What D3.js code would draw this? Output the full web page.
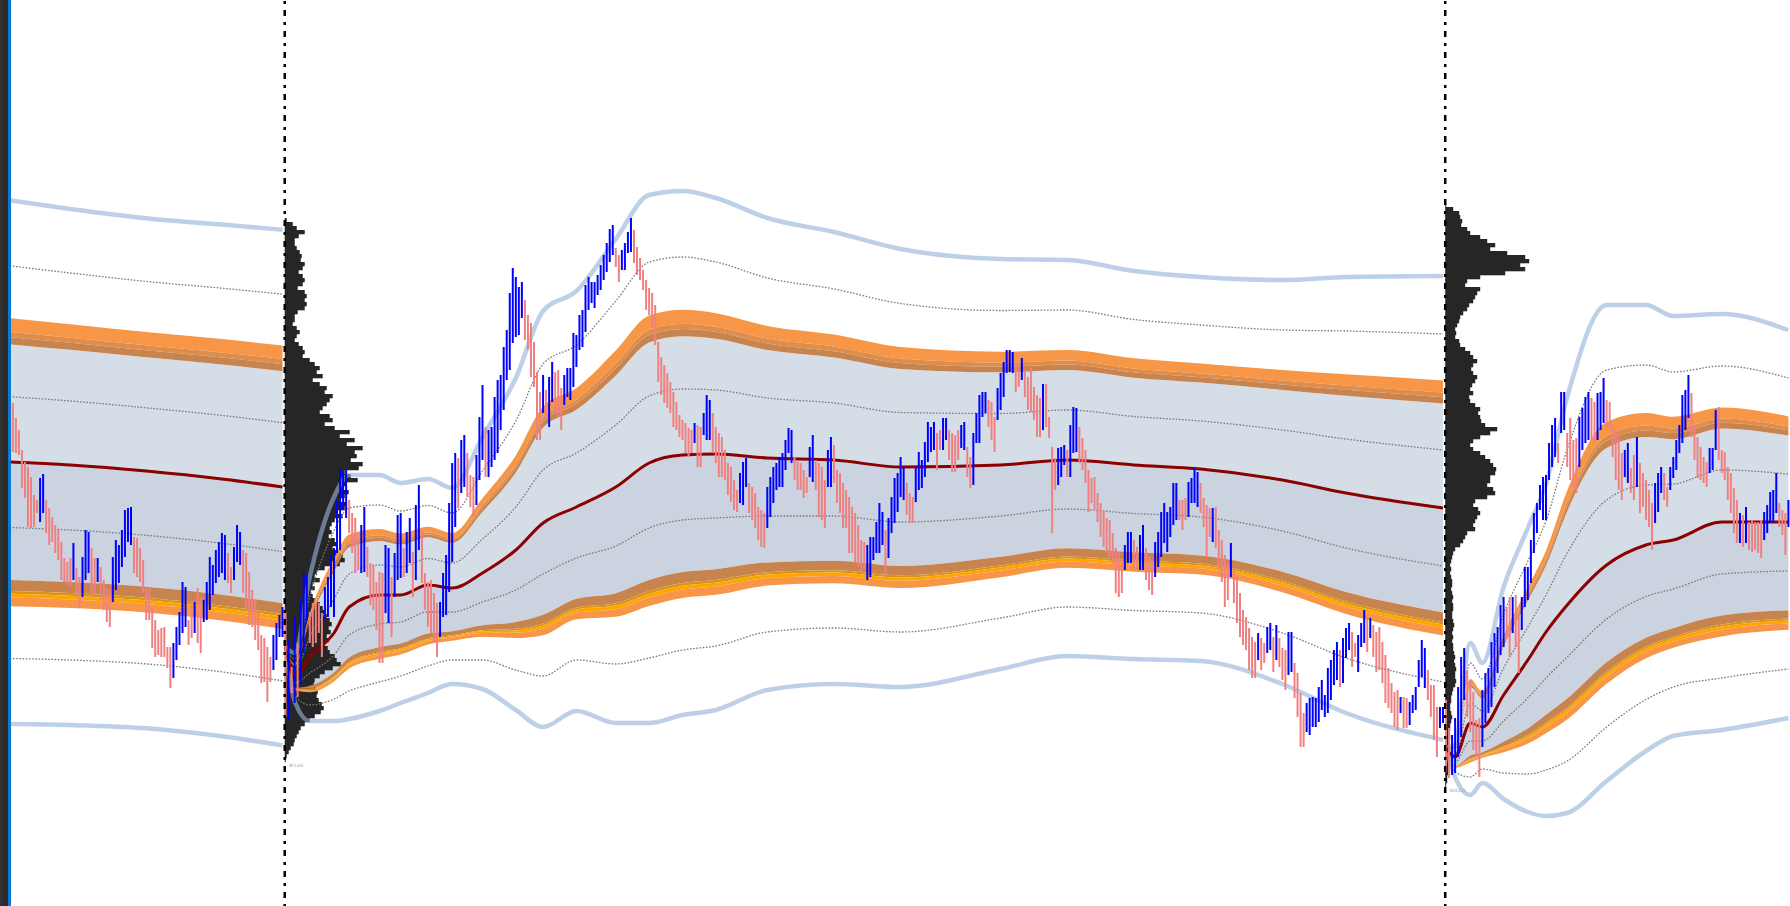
<!DOCTYPE html>
<html><head><meta charset="utf-8">
<script src="https://cdn.jsdelivr.net/npm/d3@7"></script>
<style>html,body{margin:0;padding:0;background:#fff;overflow:hidden}</style>
</head><body>
<svg id="c" width="1790" height="906"></svg>
<script>
// ---------- SESSION 1 ----------
const s1High=[608,597,582,570,550,538,533,523,505,500, 522,526,500,492,483,475,470,458,442,438, 442,457,432,423,443,470,468,452,442,442, 433,420,412,410,443,460,455,470,490,492, 493,463,462,452,440,412,413,393,380,370, 372,373,353,353,357,373,388,418,413,380, 400,398,412,403,400,418,443,435,450,458, 467,465,447,433,453,475,468,450,447,428, 410,400,387,365,362,353,343,365,377,385, 393];
const s1Low=[553,548,547,545,512,502,473,472,473,487, 478,487,467,455,458,447,440,420,418,415, 413,420,403,392,403,420,427,407,405,418, 400,390,378,373,398,410,417,433,443,458, 455,427,423,418,407,380,380,352,343,345, 343,343,332,312,322,340,355,367,373,355, 362,367,357,347,378,380,390,405,417,423, 427,420,417,407,420,438,435,407,390,375, 373,360,350,317,318,298,318,330,340,363, 363];
const s1Dir="DDDDDDDDDD"+"UUDDDDDDDD"+"DUDDUUUDDU"+"DDDDUUUUUU"+"UDDDDDDDDD"+"DDDDUUUUUD"+"DUDDUUUUUU"+"UUDDUUUDDD"+"DDDDDDDUUU"+"U";
const s1K=[0,20,45,70,90];
const s1Vwap=[538,535,529,521,513];
const s1Up=[65.4,64,63.2,63.6,64.3];
const s1Dn=[65.5,65,64.3,64.3,64.6];

// ---------- SESSION 2 ----------
const s2High=[388,360,333,383,357,400,427,425,388,397, 398,397,387,413,423,445,452,500,530,528,
 530,500,487,482,467,475,493,453,437,435, 418,428,427,455,452,423,447,485,487,452,
 468,482,448,495,515,470,427,418,420,407, 397,398,427,445,497,537,547,542,560,565,
 547,525,523,545,583,615,573,570,573,603, 620,625,653,670,707,732,723,713,718,700,
 685,677,658,628,608,625,610,623,638,628, 630,612,625,632,632,667,665,685,690,715,
 723,718,718,725,735,745,757,771,775,752, 745,750,757,768,782,770,753,742,730,720,
 712,707,695,658,643,635,627,618,608,598, 585,580,577,572,570,577,575,573,587,605,
 600,587,573,567,563,550,537,533,520,510, 527,538,542,517,513,507,493,490,487,513,
 523,533,537,543,547,560,572,570,543,540, 537,530,523,553,565,540,537,533,520,550,
 563,555,530,527,517,510,503,493,487,475, 460,458,455,463,463,478,497,488,470,482,
 503,522,527,543,533,517,507,503,533,548, 540,558,578,573,578,567,570,582,582,570,
 567,565,570,575,578,553,543,567,587,605, 608,608,600,598,583,612,627,638,650,650,
 648,637,635,642,630,623,632,613,605,602, 616,616,583,553,542,552,553,555,550,575,
 593,592,573,562,550,530,522,523,507,497, 490,482,480,467,452,448,440,455,468,468,
 460,453,465,475,452,443,440,458,468,488, 497,488,493,517,517,500,500,502,518,522,
 533,528,517,502,495,492,492,493,470,460, 445,437,457,432,422,407,390,383,372,363,
 358,367,362,357,373,377,363,375,362,352, 350,368,368,337,327,307,287,297,302,303,
 302,313,320,305,332,340,350,358,350,362, 372,377,368,357,365,377,390,383,382,375,
 368,373,358,345,332,317,308,310,303,303, 302,298,305,313,340,360,352,330,315,315,
 293,293,293];
const s2Low=[283,280,307,297,303,317,347,380,357,353, 357,367,343,380,383,393,383,447,450,490,
 482,467,447,427,430,427,428,423,395,390, 370,337,337,387,377,363,403,420,422,423,
 427,437,403,420,450,417,390,373,367,357, 343,363,383,385,408,438,473,492,507,513,
 503,493,483,495,520,540,523,523,533,540, 547,570,590,620,630,657,663,665,682,660,
 650,623,613,560,560,587,583,573,598,587, 583,570,595,603,600,613,633,650,653,668,
 690,697,692,705,710,720,728,738,745,733, 718,730,730,747,748,737,725,720,710,690,
 685,672,655,618,605,597,592,587,573,570, 563,560,547,543,547,557,533,533,565,560,
 560,547,537,523,523,520,505,498,490,488, 497,495,513,487,480,472,460,453,452,472,
 483,497,510,513,513,530,547,537,520,510, 510,502,507,523,518,510,483,480,472,513,
 513,517,497,487,472,472,447,447,437,433, 428,430,420,423,440,447,447,455,423,442,
 467,477,488,503,500,485,477,477,498,510, 512,523,538,548,550,530,550,550,560,540,
 528,528,540,552,550,523,512,515,557,557, 583,587,573,560,548,580,590,603,627,628,
 627,608,613,620,603,590,588,580,563,563, 570,573,562,467,510,515,523,535,523,523,
 547,548,537,530,517,488,497,490,478,463, 453,447,443,437,407,403,407,430,437,437,
 430,430,430,430,420,410,405,423,433,443, 457,448,463,475,480,480,470,480,483,497,
 497,493,487,473,443,463,458,452,430,418, 393,400,423,397,377,363,355,350,330,322,
 322,340,330,337,347,350,328,340,333,320, 310,325,328,302,283,253,253,268,265,273,
 273,278,290,283,287,300,315,320,313,317, 342,350,333,343,328,353,357,348,362,343,
 328,330,317,297,292,287,273,270,287,272, 272,275,287,290,313,323,312,300,283,260,
 243,272,277];
const s2Dir="DUDUDUUUDD"+"DDDUUUUUUU"+"UDDDDUUDDD"+"DDDUUDUUUD"+"UUDUUDDDDD"+"DUUUUUUDUU"+"DDDUUUDUUU"+"UUUUUUUUUD"
 +"DDDDDUDUUD"+"DDUUUUUUUU"+"UUUUUUUUUD"+"DUUUUDDDDD"+"DDDDDDDDDD"+"DDDDDUDDUU"+"UDDDDDDDDD"+"UUUDDDDDDU"
 +"UUUUUUUUDD"+"DDDUUDDDDU"+"UDDDDDDDDD"+"DDUUUUUUDU"+"UUUUUDDDUU"+"UUUUUDDUUD"+"DDDUUDDUUU"+"UUDDDUUUUU"
 +"UDDUDDDDDD"+"UDDDDUUUDU"+"UUDDDDDDDD"+"DDDDDDDUUU"+"DDUUDDDUUU"+"UUUUUDDDUU"+"UUDDDDUDDD"+"DDUDDDDDDD"
 +"DUDDUUDUDD"+"DUUDDDDUUU"+"UUUUUUUUDU"+"UUDDUUUDUD"+"DDDDDDDDUD"+"DUUUUUUDDD"+"DUU";
const s2K=[0,3,8,16,21,31,38,47,55,65,76,85,96,109,120,131,142,159,181,203,236,258,280,302,329,350,382];
const s2Vwap=[353,323,343,367,393,405,405,415,412,427,450,477,493,513,537,545,546,542,540,533,535,540,535,531,520,507,492];
const s2Up=[0,6,20,34,33,30,28,26.5,25,34,43,53,54,62,67,66,64,60,57,54.5,51.5,50,48.5,48,50,54,58];
const s2Dn=[0,6,16,22,28,29,27,27,24,29,40,51,51,59,65,65,64,58,56,55,51,49,48.5,48,51,55,58];
const s2ProfileTop=782;
const s2Profile=[2,8,12,20,14,10,10,12,15,17, 16,20,18,14,18,20,18,13,20,22, 20,22,20,13,10,10,8,12,15,12,
 10,14,18,20,18,25,30,35,32,38, 28,35,42,40,48,45,42,38,35,45, 48,40,50,65,55,70,62,78,70,72,
 66,78,74,60,66,73,62,58,64,60, 55,62,60,52,58,50,47,45,47,44, 50,53,48,55,58,60,55,40,32,30,
 35,28,30,26,28,30,35,38,40,42, 45,47,44,46,42,44,40,43,45,50, 52,56,48,40,35,30,29,31,33,32,
 34,37,39,36,30,25,20,16,14,12, 10,9,6,4,2,1];

// ---------- SESSION 3 ----------
const s3High=[300,272,265,282,313,343,352,330,320,308, 280,282,310,327,332,358,367,373,395,403,
 393,403,403,405,387,403,433,433,460,487, 497,515,523,525,557,575,582,557,608,608,
 567,582,560,562,583,592,603,608,602,598, 607,608,622,600,598,575,570,563,547,550,
 557,532,545,563,537,527,520,510,497,517, 527,533,527,513,533,543,560,575,605,610,
 625,607,575,563,553,543,538,552,552,590, 593,550,548,533,527,512,500,487,485,493,
 478,480,478,478,480,488,495,508,510,527, 497,490,487,500,517];
const s3Low=[228,222,225,227,243,263,300,283,268,250, 243,223,253,277,287,293,313,327,345,353,
 363,343,367,353,327,370,393,400,417,447, 467,490,480,480,520,533,543,537,567,570,
 533,520,513,507,533,550,557,560,560,557, 560,570,577,572,573,543,520,510,500,523,
 517,507,500,513,487,493,480,473,450,477, 488,507,500,493,510,522,530,547,557,570,
 582,563,540,522,520,517,513,527,530,550, 540,527,520,500,487,467,457,457,453,457,
 450,448,450,447,442,460,467,477,478,487, 473,465,445,473,477];
const s3Dir="DDUUUUUDDD"+"DDUUUUUUUU"+"DDUDDUUUUU"+"UUUUUUUDUU"+"DDDDUUUUDD"+"UUUDDDDDDU"+"UDDUDDDDDU"+"UUDDUUUUUU"
 +"UDDDDDDUUU"+"DDDDDDDUDU"+"DDDDDUUUUU"+"DDDUU";
const s3K=[0,3,8,12,19,27,33,40,53,66,75,91,113];
const s3Vwap=[252,243,277,273,305,340,368,395,435,455,460,478,478];
const s3Up=[0,3,20,16,27,33,37,52,65,60,56,52,48];
const s3Dn=[0,5,18,14,26,38,46,52,54,51.5,49,52,49];
const s3ProfileTop=797;
const s3Profile=[1,8,14,15,17,16,22,25,35,42, 50,45,62,80,84,75,80,60,35,22, 20,35,32,30,28,24,22,18,15,14,
 12,10,11,10,14,15,20,25,28,32, 28,26,28,32,30,27,25,28,24,25, 30,35,33,35,36,40,52,45,35,28,
 25,28,35,40,45,48,51,50,45,45, 42,48,50,42,30,28,33,35,32,30, 28,30,22,20,18,15,10,8,7,6,
 5,6,5,6,7,7,6,7,8,7, 8,8,7,7,8,9,8,7,8,7, 8,8,9,10,9,10,11,10,10,11,
 10,8,7,6,6,5,5,6,7,6, 5,5,4,5,4,4,5,4,4,3, 3,3,3,2,2,1];
const profileStep=4;
const sessionLabels=["","W Lvls","SDCLVL"];

// ---------- DRAW ----------
const W=1790,H=906;
const svg=d3.select("#c");
const y=d3.scaleLinear().domain([94,1000]).range([H,0]);
const x=d3.scaleLinear().domain([0,1]).range([9.8,9.8+3.03]);
const vol=d3.scaleLinear().domain([0,100]).range([0,100]);

svg.append("defs").append("clipPath").attr("id","clip")
  .append("rect").attr("x",11).attr("y",0).attr("width",W-11).attr("height",H);
const g=svg.append("g").attr("clip-path","url(#clip)");

const sessions=[
 {high:s1High,low:s1Low,dir:s1Dir,k:s1K,vwap:s1Vwap,up:s1Up,dn:s1Dn,profile:null},
 {high:s2High,low:s2Low,dir:s2Dir,k:s2K,vwap:s2Vwap,up:s2Up,dn:s2Dn,profile:s2Profile,profileTop:s2ProfileTop},
 {high:s3High,low:s3Low,dir:s3Dir,k:s3K,vwap:s3Vwap,up:s3Up,dn:s3Dn,profile:s3Profile,profileTop:s3ProfileTop}
];
let st=0; sessions.forEach(s=>{s.start=st; st+=s.high.length;});

const area=(f0,f1)=>d3.area().x(p=>p.x).y0(p=>y(f0(p))).y1(p=>y(f1(p))).curve(d3.curveMonotoneX);
const line=f=>d3.line().x(p=>p.x).y(p=>y(f(p))).curve(d3.curveMonotoneX);

sessions.forEach((s,si)=>{
  const pts=s.k.map((kk,i)=>({x:x(s.start+kk),v:s.vwap[i],u:s.up[i],d:s.dn[i]}));
  const L=g.append("g");
  // fills
  L.append("path").datum(pts).attr("d",area(p=>p.v,p=>p.v+1.8*p.u)).attr("fill","#d5dde6");
  L.append("path").datum(pts).attr("d",area(p=>p.v-1.8*p.d,p=>p.v)).attr("fill","#cad3df");
  // volume profile
  if(s.profile){
    const x0=x(s.start)-0.8;
    L.append("g").selectAll("rect").data(s.profile).join("rect")
      .attr("x",x0)
      .attr("y",(w,i)=>y(s.profileTop-i*profileStep))
      .attr("width",w=>vol(w))
      .attr("height",(w,i)=>y(s.profileTop-(i+1)*profileStep)-y(s.profileTop-i*profileStep)+0.3)
      .attr("fill","#262626");
    L.append("text").attr("x",x0+4).attr("y",y(s.profileTop-s.profile.length*profileStep)+5)
      .attr("font-family","DejaVu Sans").attr("font-size",4.5).attr("fill","#9a9a9a").text(sessionLabels[si]);
  }
  // dotted +-1, +-3
  [1,3,-1,-3].forEach(m=>{
    L.append("path").datum(pts).attr("d",line(p=>m>0?p.v+m*p.u:p.v+m*p.d))
      .attr("fill","none").attr("stroke","#7a7a7a").attr("stroke-width",1.3).attr("stroke-dasharray","1.6 1.6");
  });
  // upper +2 band
  L.append("path").datum(pts).attr("d",area(p=>p.v+1.99*p.u,p=>p.v+2.2*p.u)).attr("fill","#f79646");
  L.append("path").datum(pts).attr("d",area(p=>p.v+1.91*p.u,p=>p.v+1.99*p.u)).attr("fill","#e08c4a");
  L.append("path").datum(pts).attr("d",area(p=>p.v+1.8*p.u,p=>p.v+1.91*p.u)).attr("fill","#c8844f");
  // lower -2 band
  L.append("path").datum(pts).attr("d",area(p=>p.v-1.97*p.d,p=>p.v-1.8*p.d)).attr("fill","#c8844f");
  L.append("path").datum(pts).attr("d",area(p=>p.v-2.01*p.d,p=>p.v-1.97*p.d)).attr("fill","#d6941c");
  L.append("path").datum(pts).attr("d",area(p=>p.v-2.07*p.d,p=>p.v-2.01*p.d)).attr("fill","#ffa500");
  L.append("path").datum(pts).attr("d",area(p=>p.v-2.2*p.d,p=>p.v-2.07*p.d)).attr("fill","#f79646");
  // +-4 light blue
  [4,-4].forEach(m=>{
    L.append("path").datum(pts).attr("d",line(p=>m>0?p.v+m*p.u:p.v+m*p.d))
      .attr("fill","none").attr("stroke","#94b3da").attr("stroke-opacity",0.62).attr("stroke-width",4.5);
  });
  // VWAP
  L.append("path").datum(pts).attr("d",line(p=>p.v))
    .attr("fill","none").attr("stroke","#8b0000").attr("stroke-width",3);
});

// bars
const bars=[];
sessions.forEach(s=>s.high.forEach((h,i)=>bars.push({i:s.start+i,h:h,l:s.low[i],up:s.dir[i]==="U"})));
g.append("g").selectAll("line").data(bars).join("line")
  .attr("x1",d=>x(d.i)).attr("x2",d=>x(d.i))
  .attr("y1",d=>y(d.h)).attr("y2",d=>y(d.l))
  .attr("stroke",d=>d.up?"#0000ff":"#f08080").attr("stroke-width",2);

// session dividers
sessions.slice(1).forEach(s=>{
  svg.append("line").attr("x1",x(s.start)-0.8).attr("x2",x(s.start)-0.8).attr("y1",0).attr("y2",H)
    .attr("stroke","#000").attr("stroke-width",2.5).attr("stroke-dasharray","3 6 6 6").attr("stroke-dashoffset",-1);
});

// left frame
svg.append("rect").attr("x",0).attr("y",0).attr("width",8).attr("height",H).attr("fill","#2b2b2b");
svg.append("rect").attr("x",0).attr("y",0).attr("width",2).attr("height",H).attr("fill","#333");
svg.append("rect").attr("x",8).attr("y",0).attr("width",3).attr("height",H).attr("fill","#0a79d2");
</script>
</body></html>
